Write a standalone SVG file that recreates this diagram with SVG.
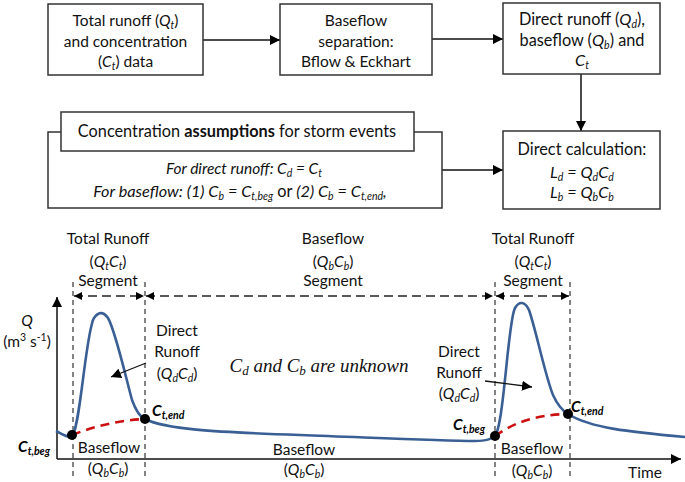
<svg xmlns="http://www.w3.org/2000/svg" width="685" height="482" viewBox="0 0 685 482">
<defs>
<style>
.t{font-family:Lato,"Open Sans",sans-serif;font-size:15.5px;fill:#111}
.big{font-size:16.3px}
.c{text-anchor:middle}
.i{font-style:italic}
.b{font-weight:bold}
.s{font-size:10.5px}
.box{fill:#fff;stroke:#333;stroke-width:1.5}
.ln{fill:none;stroke:#111;stroke-width:1.5}
.dv{fill:none;stroke:#333;stroke-width:1.2;stroke-dasharray:5 4}
.dh{fill:none;stroke:#222;stroke-width:1.5;stroke-dasharray:9 5}
.flow{fill:none;stroke:#3a5f94;stroke-width:2.6}
.red{fill:none;stroke:#cc1010;stroke-width:2.6;stroke-dasharray:9 6}
.cm{font-family:"Liberation Serif","DejaVu Serif",serif;font-style:italic;font-size:19px;fill:#111}
.ct{font-family:Lato,"Open Sans",sans-serif;font-weight:bold;font-style:italic;fill:#000}
</style>
<marker id="ah" viewBox="0 0 10 10" refX="10" refY="5" markerWidth="10" markerHeight="10" markerUnits="userSpaceOnUse" orient="auto"><path d="M0,0 L10,5 L0,10 z" fill="#000"/></marker>
<marker id="ah2" viewBox="0 0 10 10" refX="10" refY="5" markerWidth="8" markerHeight="8" markerUnits="userSpaceOnUse" orient="auto-start-reverse"><path d="M0,0 L10,5 L0,10 z" fill="#000"/></marker>
</defs>
<rect width="685" height="482" fill="#fff"/>

<g id="connectors">
<line class="ln" x1="203" y1="40" x2="280" y2="40" marker-end="url(#ah)"/>
<line class="ln" x1="432" y1="39" x2="503" y2="39" marker-end="url(#ah)"/>
<line class="ln" x1="581" y1="74" x2="581" y2="131" marker-end="url(#ah)"/>
<line class="ln" x1="442" y1="170" x2="503" y2="170" marker-end="url(#ah)"/>
</g>

<g id="node-total">
<rect class="box" x="48" y="4" width="155" height="71"/>
<text class="t c" x="125.5" y="26">Total runoff (<tspan class="i">Q</tspan><tspan class="i s" dy="3">t</tspan><tspan dy="-3">)</tspan></text>
<text class="t c" x="125.5" y="46.5">and concentration</text>
<text class="t c" x="125.5" y="67">(<tspan class="i">C</tspan><tspan class="i s" dy="3">t</tspan><tspan dy="-3">) data</tspan></text>
</g>

<g id="node-separation">
<rect class="box" x="280" y="4" width="152" height="71"/>
<text class="t c" x="356" y="26">Baseflow</text>
<text class="t c" x="356" y="46.5">separation:</text>
<text class="t c" x="356" y="67">Bflow &amp; Eckhart</text>
</g>

<g id="node-direct-runoff">
<rect class="box" x="503" y="3" width="157" height="71"/>
<text class="t big c" x="582" y="25">Direct runoff (<tspan class="i">Q</tspan><tspan class="i s" dy="3">d</tspan><tspan dy="-3">),</tspan></text>
<text class="t big c" x="582" y="45.5">baseflow (<tspan class="i">Q</tspan><tspan class="i s" dy="3">b</tspan><tspan dy="-3">) and</tspan></text>
<text class="t big c" x="582" y="66"><tspan class="i">C</tspan><tspan class="i s" dy="3">t</tspan></text>
</g>

<g id="node-calculation">
<rect class="box" x="503" y="131" width="157" height="78"/>
<text class="t big c" x="582" y="155">Direct calculation:</text>
<text class="t big c i" x="582" y="177.5">L<tspan class="s" dy="3">d</tspan><tspan dy="-3"> = Q</tspan><tspan class="s" dy="3">d</tspan><tspan dy="-3">C</tspan><tspan class="s" dy="3">d</tspan></text>
<text class="t big c i" x="582" y="198">L<tspan class="s" dy="3">b</tspan><tspan dy="-3"> = Q</tspan><tspan class="s" dy="3">b</tspan><tspan dy="-3">C</tspan><tspan class="s" dy="3">b</tspan></text>
</g>

<g id="node-assumptions">
<rect class="box" x="48" y="132" width="394" height="76"/>
<rect class="box" x="61" y="112" width="353" height="39"/>
<text class="t big c" x="237" y="137">Concentration <tspan class="b">assumptions</tspan> for storm events</text>
<text class="t c i" x="244" y="174">For direct runoff: C<tspan class="s" dy="2.5">d</tspan><tspan dy="-2.5"> = C</tspan><tspan class="s" dy="2.5">t</tspan></text>
<text class="t big c i" x="240" y="197">For baseflow: (1) C<tspan class="s" dy="2.5">b</tspan><tspan dy="-2.5"> = C</tspan><tspan class="s" dy="2.5">t,beg</tspan><tspan dy="-2.5" font-style="normal"> or </tspan><tspan>(2) C</tspan><tspan class="s" dy="2.5">b</tspan><tspan dy="-2.5"> = C</tspan><tspan class="s" dy="2.5">t,end</tspan><tspan dy="-2.5">,</tspan></text>
</g>

<g id="graph">
<line class="ln" x1="57" y1="459" x2="57" y2="297" marker-end="url(#ah)"/>
<line class="ln" x1="57" y1="459" x2="681" y2="459" marker-end="url(#ah)"/>
<text class="t c i" x="27" y="326">Q</text>
<text class="t c" x="27" y="347">(m<tspan class="s" dy="-6">3</tspan><tspan dy="6"> s</tspan><tspan class="s" dy="-6">-1</tspan><tspan dy="6">)</tspan></text>
<text class="t c" x="645" y="478">Time</text>

<line class="dv" x1="73" y1="282" x2="73" y2="477"/>
<line class="dv" x1="145" y1="282" x2="145" y2="477"/>
<line class="dv" x1="495" y1="282" x2="495" y2="477"/>
<line class="dv" x1="570" y1="282" x2="570" y2="477"/>
<line class="dh" x1="74" y1="296" x2="144" y2="296" marker-start="url(#ah2)" marker-end="url(#ah2)"/>
<line class="dh" x1="146" y1="296" x2="493" y2="296" marker-start="url(#ah2)" marker-end="url(#ah2)"/>
<line class="dh" x1="496" y1="296" x2="569" y2="296" marker-start="url(#ah2)" marker-end="url(#ah2)"/>

<text class="t c" x="108" y="244">Total Runoff</text>
<text class="t c" x="108" y="267">(<tspan class="i">Q</tspan><tspan class="i s" dy="3">t</tspan><tspan class="i" dy="-3">C</tspan><tspan class="i s" dy="3">t</tspan><tspan dy="-3">)</tspan></text>
<text class="t c" x="108" y="286">Segment</text>
<text class="t c" x="333" y="244">Baseflow</text>
<text class="t c" x="333" y="267">(<tspan class="i">Q</tspan><tspan class="i s" dy="3">b</tspan><tspan class="i" dy="-3">C</tspan><tspan class="i s" dy="3">b</tspan><tspan dy="-3">)</tspan></text>
<text class="t c" x="333" y="286">Segment</text>
<text class="t c" x="533" y="244">Total Runoff</text>
<text class="t c" x="533" y="267">(<tspan class="i">Q</tspan><tspan class="i s" dy="3">t</tspan><tspan class="i" dy="-3">C</tspan><tspan class="i s" dy="3">t</tspan><tspan dy="-3">)</tspan></text>
<text class="t c" x="533" y="286">Segment</text>

<path class="flow" d="M56,431 C62,434 67,438 72,436 C80,430 86,330 94,318 C98,312 103,311 108,318 C115,330 124,370 132,400 C136,411 140,417 145,419 C165,429 210,432 300,435 C380,438 440,441 475,441 C487,441 491,439 495,436 C504,425 508,320 515,308 C519,301 525,301 529,310 C536,330 545,375 553,395 C558,406 563,411 568,414 C590,428 630,432 685,437"/>
<path class="red" d="M72,435 C95,426 120,420 145,419"/>
<path class="red" d="M495,436 C512,424 532,415 568,414"/>
<circle cx="72" cy="435" r="5" fill="#000"/>
<circle cx="145" cy="419" r="5" fill="#000"/>
<circle cx="495" cy="436" r="5" fill="#000"/>
<circle cx="568" cy="414" r="5" fill="#000"/>

<line class="ln" x1="146" y1="363" x2="111" y2="377" marker-end="url(#ah)" style="stroke-width:1.3"/>
<line class="ln" x1="485" y1="381" x2="532" y2="387" marker-end="url(#ah)" style="stroke-width:1.3"/>
<text class="t c" x="177" y="336">Direct</text>
<text class="t c" x="177" y="357">Runoff</text>
<text class="t c" x="177" y="379">(<tspan class="i">Q</tspan><tspan class="i s" dy="3">d</tspan><tspan class="i" dy="-3">C</tspan><tspan class="i s" dy="3">d</tspan><tspan dy="-3">)</tspan></text>
<text class="t c" x="459" y="357">Direct</text>
<text class="t c" x="459" y="378">Runoff</text>
<text class="t c" x="459" y="399">(<tspan class="i">Q</tspan><tspan class="i s" dy="3">d</tspan><tspan class="i" dy="-3">C</tspan><tspan class="i s" dy="3">d</tspan><tspan dy="-3">)</tspan></text>

<text class="cm" x="319" y="372" text-anchor="middle">C<tspan font-size="13px" dy="3">d</tspan><tspan dy="-3"> and C</tspan><tspan font-size="13px" dy="3">b</tspan><tspan dy="-3"> are unknown</tspan></text>

<text class="ct" x="18" y="452" font-size="15.5px">C<tspan font-size="10.5px" dy="3">t,beg</tspan></text>
<text class="ct" x="152" y="416" font-size="15.5px">C<tspan font-size="10.5px" dy="3">t,end</tspan></text>
<text class="ct" x="453" y="430" font-size="15.5px">C<tspan font-size="10.5px" dy="3">t,beg</tspan></text>
<text class="ct" x="571" y="412" font-size="15.5px">C<tspan font-size="10.5px" dy="3">t,end</tspan></text>

<text class="t c" x="109" y="453">Baseflow</text>
<text class="t c" x="108" y="474">(<tspan class="i">Q</tspan><tspan class="i s" dy="3">b</tspan><tspan class="i" dy="-3">C</tspan><tspan class="i s" dy="3">b</tspan><tspan dy="-3">)</tspan></text>
<text class="t c" x="304" y="455">Baseflow</text>
<text class="t c" x="304" y="475">(<tspan class="i">Q</tspan><tspan class="i s" dy="3">b</tspan><tspan class="i" dy="-3">C</tspan><tspan class="i s" dy="3">b</tspan><tspan dy="-3">)</tspan></text>
<text class="t c" x="532" y="454">Baseflow</text>
<text class="t c" x="532" y="476">(<tspan class="i">Q</tspan><tspan class="i s" dy="3">b</tspan><tspan class="i" dy="-3">C</tspan><tspan class="i s" dy="3">b</tspan><tspan dy="-3">)</tspan></text>
</g>
</svg>
